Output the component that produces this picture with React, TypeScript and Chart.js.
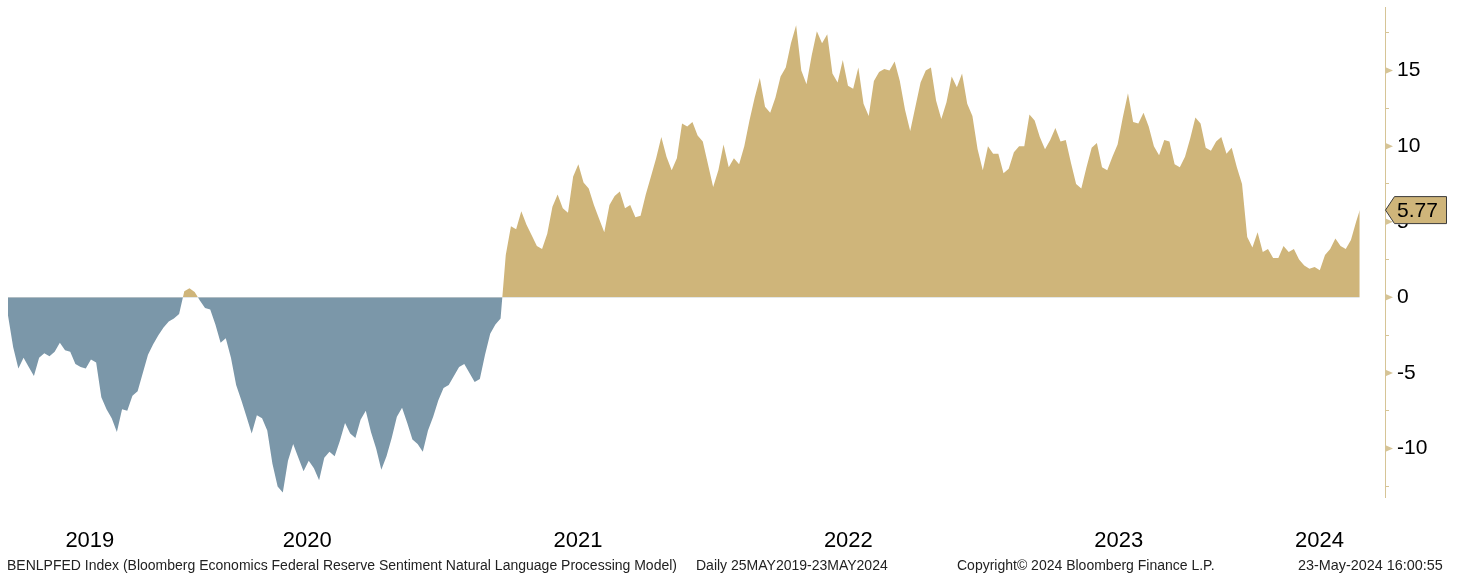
import React, { useEffect, useRef } from 'react';
import { Chart, registerables } from 'chart.js';

Chart.register(...registerables);

// ---- data (weekly readings of the BENLPFED index, starting 25 May 2019) ----
const startDate = '2019-05-25';
const stepDays = 7;
const weeklyValues: number[] = [
  -1.2, -3.3, -4.7, -4.0, -4.6, -5.2, -4.0, -3.7, -3.9, -3.6,
  -3.0, -3.5, -3.6, -4.4, -4.6, -4.7, -4.1, -4.3, -6.6, -7.4,
  -8.0, -8.9, -7.4, -7.5, -6.5, -6.2, -5.0, -3.8, -3.1, -2.5,
  -2.0, -1.6, -1.4, -1.1, 0.4, 0.6, 0.35, -0.2, -0.7, -0.8,
  -1.8, -3.0, -2.7, -4.0, -5.8, -6.8, -7.9, -9.0, -7.8, -8.0,
  -8.8, -11.0, -12.5, -12.9, -10.8, -9.7, -10.6, -11.5, -10.8, -11.3,
  -12.1, -10.6, -10.2, -10.5, -9.5, -8.3, -9.0, -9.3, -8.1, -7.5,
  -8.9, -10.0, -11.4, -10.5, -9.3, -7.9, -7.3, -8.3, -9.4, -9.7,
  -10.2, -8.8, -7.9, -6.8, -6.0, -5.8, -5.2, -4.6, -4.4, -5.0,
  -5.6, -5.4, -3.8, -2.4, -1.8, -1.4, 2.8, 4.7, 4.5, 5.7,
  4.8, 4.1, 3.4, 3.2, 4.2, 6.0, 6.8, 5.9, 5.6, 8.0,
  8.8, 7.6, 7.2, 6.1, 5.2, 4.3, 6.1, 6.7, 7.0, 5.9,
  6.1, 5.3, 5.4, 6.8, 8.0, 9.2, 10.6, 9.3, 8.4, 9.2,
  11.5, 11.3, 11.6, 10.7, 10.3, 8.8, 7.3, 8.4, 10.1, 8.6,
  9.2, 8.8, 10.0, 11.7, 13.2, 14.5, 12.6, 12.2, 13.2, 14.6,
  15.2, 16.8, 18.0, 15.0, 14.1, 16.0, 17.6, 16.8, 17.4, 14.8,
  14.2, 15.7, 14.0, 13.8, 15.2, 12.8, 12.0, 14.3, 14.9, 15.1,
  15.0, 15.6, 14.3, 12.4, 11.0, 12.6, 14.2, 15.0, 15.2, 13.0,
  11.8, 12.9, 14.6, 13.9, 14.8, 12.8, 12.0, 9.8, 8.4, 10.0,
  9.5, 9.5, 8.2, 8.5, 9.6, 10.0, 10.0, 12.1, 11.7, 10.6,
  9.8, 10.4, 11.2, 10.3, 10.4, 8.9, 7.5, 7.2, 8.6, 9.9,
  10.2, 8.6, 8.4, 9.3, 10.1, 11.9, 13.5, 11.6, 11.5, 12.2,
  11.3, 10.0, 9.4, 10.4, 10.3, 8.8, 8.6, 9.3, 10.5, 11.9,
  11.5, 9.9, 9.7, 10.3, 10.6, 9.5, 9.9, 8.6, 7.5, 4.0,
  3.3, 4.3, 3.0, 3.2, 2.6, 2.6, 3.4, 3.0, 3.2, 2.5,
  2.1, 1.9, 2.0, 1.8, 2.8, 3.2, 3.9, 3.4, 3.2, 3.8, 5.0,
];
const lastDate = '2024-05-23';
const lastValue = 5.77;

const yearLabels = ['2019', '2020', '2021', '2022', '2023', '2024'];
const yearStarts = ['2019-05-25', '2020-01-01', '2021-01-01', '2022-01-01', '2023-01-01', '2024-01-01'];
const axisEndDate = '2024-06-26';

const yMin = -13.2;
const yMax = 19.2;
const yStep = 2.5;

const footerLeft = 'BENLPFED Index (Bloomberg Economics Federal Reserve Sentiment Natural Language Processing Model)';
const footerDaily = 'Daily 25MAY2019-23MAY2024';
const footerCopy = 'Copyright\u00A9 2024 Bloomberg Finance L.P.';
const footerStamp = '23-May-2024 16:00:55';

// ---- styles ----
const GOLD = '#CFB57A';
const BLUE = '#7B97A9';
const AXIS = '#D6C496';
const FONT = '"Liberation Sans", Arial, sans-serif';

const DAY_MS = 86400000;
const dayOf = (d: string) => (Date.parse(d) - Date.parse(startDate)) / DAY_MS;

export default function App() {
  const canvasRef = useRef<HTMLCanvasElement | null>(null);

  useEffect(() => {
    const canvas = canvasRef.current;
    if (!canvas) return;

    const points = weeklyValues.map((v, i) => ({ x: i * stepDays, y: v }));
    points.push({ x: dayOf(lastDate), y: lastValue });

    const axisMax = dayOf(axisEndDate);
    const starts = yearStarts.map(dayOf);
    const yearMids = starts.map((s, k) => (s + (k + 1 < starts.length ? starts[k + 1] : axisMax)) / 2);

    const markerPlugin = {
      id: 'bbgMarkers',
      afterDraw(chart: any) {
        const ctx = chart.ctx;
        const ys = chart.scales.y;
        const x0 = ys.left;
        ctx.save();
        ctx.fillStyle = AXIS;
        for (let v = Math.ceil(yMin / 5) * 5; v <= yMax; v += 5) {
          const py = ys.getPixelForValue(v);
          ctx.beginPath();
          ctx.moveTo(x0, py - 3.5);
          ctx.lineTo(x0 + 8, py);
          ctx.lineTo(x0, py + 3.5);
          ctx.closePath();
          ctx.fill();
        }
        const py = ys.getPixelForValue(lastValue);
        ctx.beginPath();
        ctx.moveTo(x0 + 0.5, py);
        ctx.lineTo(x0 + 9.5, py - 13.5);
        ctx.lineTo(x0 + 61.5, py - 13.5);
        ctx.lineTo(x0 + 61.5, py + 13.5);
        ctx.lineTo(x0 + 9.5, py + 13.5);
        ctx.closePath();
        ctx.fillStyle = GOLD;
        ctx.fill();
        ctx.strokeStyle = '#3c3c3c';
        ctx.lineWidth = 1;
        ctx.stroke();
        ctx.fillStyle = '#000';
        ctx.font = '21px ' + FONT;
        ctx.textBaseline = 'middle';
        ctx.textAlign = 'left';
        ctx.fillText(lastValue.toFixed(2), x0 + 12, py + 1);
        ctx.restore();
      },
    };

    const chart = new Chart(canvas, {
      type: 'line',
      data: {
        datasets: [
          {
            data: points,
            borderWidth: 0,
            borderColor: 'rgba(0,0,0,0)',
            pointRadius: 0,
            tension: 0,
            fill: { target: 'origin', above: GOLD, below: BLUE },
          } as any,
        ],
      },
      options: {
        animation: false,
        responsive: false,
        maintainAspectRatio: false,
        layout: { padding: { left: 8, top: 7, right: 0, bottom: 0 } },
        plugins: { legend: { display: false }, tooltip: { enabled: false } },
        scales: {
          x: {
            type: 'linear',
            min: 0,
            max: axisMax,
            grid: { display: false, drawTicks: false },
            border: { display: false },
            afterBuildTicks: (s: any) => {
              s.ticks = yearMids.map((v) => ({ value: v }));
            },
            afterFit: (s: any) => {
              s.height = 78;
              s.paddingLeft = 0;
              s.paddingRight = 0;
            },
            ticks: {
              autoSkip: false,
              maxRotation: 0,
              padding: 31,
              color: '#000',
              font: { family: FONT, size: 22 },
              callback: (_v: any, i: number) => yearLabels[i],
            },
          },
          y: {
            position: 'right',
            min: yMin,
            max: yMax,
            afterFit: (s: any) => {
              s.width = 75;
              s.paddingTop = 0;
              s.paddingBottom = 0;
            },
            grid: { drawOnChartArea: false, tickLength: 4, color: AXIS, tickColor: AXIS },
            border: { display: true, color: AXIS, width: 1 },
            ticks: {
              stepSize: yStep,
              includeBounds: false,
              padding: 8,
              color: '#000',
              font: { family: FONT, size: 21 },
              callback: (v: any) => (Math.abs(v % 5) < 1e-9 ? String(v) : ''),
            },
          },
        },
      } as any,
      plugins: [markerPlugin],
    });

    return () => chart.destroy();
  }, []);

  const footStyle: React.CSSProperties = {
    position: 'absolute',
    top: 557,
    fontFamily: FONT,
    fontSize: 14,
    lineHeight: '16px',
    color: '#222',
    whiteSpace: 'nowrap',
  };

  return (
    <div style={{ position: 'fixed', left: 0, top: 0, width: 1460, height: 575, background: '#fff', overflow: 'hidden' }}>
      <canvas ref={canvasRef} width={1460} height={575} style={{ position: 'absolute', left: 0, top: 0, display: 'block' }} />
      <div style={{ ...footStyle, left: 7 }}>{footerLeft}</div>
      <div style={{ ...footStyle, left: 696 }}>{footerDaily}</div>
      <div style={{ ...footStyle, left: 957 }}>{footerCopy}</div>
      <div style={{ ...footStyle, left: 1298, fontSize: 14.4 }}>{footerStamp}</div>
    </div>
  );
}
